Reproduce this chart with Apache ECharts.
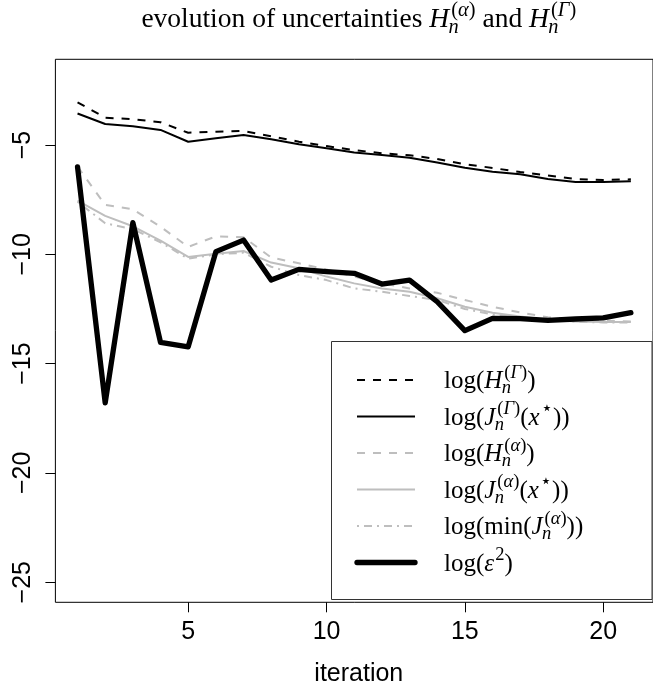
<!DOCTYPE html>
<html><head><meta charset="utf-8">
<script src="https://cdn.jsdelivr.net/npm/echarts@6/dist/echarts.min.js"></script>
<style>html,body{margin:0;padding:0;background:#fff}#c{width:653px;height:690px}</style>
</head><body><div id="c"></div>
<script>
// ---- data ----
const iterations = [1,2,3,4,5,6,7,8,9,10,11,12,13,14,15,16,17,18,19,20,21];
const logH_Gamma = [-3.05,-3.75,-3.82,-3.96,-4.44,-4.39,-4.36,-4.60,-4.85,-5.05,-5.23,-5.38,-5.47,-5.64,-5.88,-6.05,-6.24,-6.39,-6.56,-6.60,-6.57];
const logJ_Gamma = [-3.56,-4.04,-4.14,-4.31,-4.85,-4.69,-4.54,-4.74,-4.97,-5.15,-5.34,-5.46,-5.58,-5.80,-6.04,-6.22,-6.34,-6.56,-6.69,-6.69,-6.66];
const logH_alpha = [-5.99,-7.74,-7.94,-8.74,-9.66,-9.18,-9.22,-10.15,-10.41,-10.70,-11.02,-11.33,-11.56,-11.76,-12.09,-12.40,-12.66,-12.88,-12.97,-13.04,-13.08];
const logJ_alpha = [-7.55,-8.24,-8.72,-9.38,-10.12,-9.98,-9.85,-10.38,-10.64,-11.02,-11.33,-11.56,-11.71,-12.01,-12.40,-12.67,-12.85,-13.00,-13.08,-13.10,-13.10];
const logMinJ_alpha = [-7.60,-8.58,-8.85,-9.45,-10.20,-10.00,-9.93,-10.57,-10.95,-11.18,-11.56,-11.71,-11.91,-12.09,-12.50,-12.75,-12.90,-13.00,-13.08,-13.12,-13.12];
const logEps2 = [-6.00,-16.80,-8.55,-14.03,-14.23,-9.88,-9.35,-11.18,-10.69,-10.79,-10.87,-11.36,-11.18,-12.17,-13.49,-12.93,-12.94,-13.02,-12.96,-12.91,-12.67];
const xTicks = [5,10,15,20];
const yTicks = [-25,-20,-15,-10,-5];

// ---- math text helper ----
const MF = '"Liberation Serif", "DejaVu Serif", serif';
const SUPK = 0.74;
const mctx = document.createElement('canvas').getContext('2d');
function tw(t, size, it){ mctx.font = (it?'italic ':'normal ') + 'normal ' + size + 'px ' + MF; return mctx.measureText(t).width; }
function segs(arr, x, B, size, out){
  for (const [t,it] of arr){
    out.push({type:'text', x:x, y:B - 0.3*size, silent:true,
      style:{text:t, fontSize:size, fontFamily:MF, fontStyle: it?'italic':'normal', fill:'#000', align:'left', verticalAlign:'middle'}});
    x += tw(t,size,it);
  }
  return x;
}
function segW(arr,size){ let w=0; for(const [t,it] of arr) w+=tw(t,size,it); return w; }
function mathWidth(tokens,S){
  let w=0; const s2=SUPK*S;
  for(const tk of tokens){
    if(tk.m) w+=segW(tk.m,S);
    else if(tk.sup&&tk.sub) w+=Math.max(segW(tk.sup,s2)+0.08*S,segW(tk.sub,s2));
    else if(tk.sup) w+=segW(tk.sup,s2)+0.05*S;
  }
  return w;
}
function math(tokens, x, B, S, out){
  const s2 = SUPK*S;
  for (const tk of tokens){
    if (tk.m) x = segs(tk.m, x, B, S, out);
    else if (tk.sup && tk.sub){
      const a = segs(tk.sup, x+0.08*S, B-0.42*S, s2, out);
      const b = segs(tk.sub, x-0.02*S, B+0.2*S, s2, out);
      x = Math.max(a,b);
    } else if (tk.sup){ x = segs(tk.sup, x+0.05*S, B-0.42*S, s2, out); }
  }
  return x;
}
const supG = [['(',0],['Γ',1],[')',0]], supA = [['(',0],['α',1],[')',0]], subN = [['n',1]];
const titleTokens = [{m:[['evolution of uncertainties ',0],['H',1]]},{sup:supA,sub:subN},{m:[[' and ',0],['H',1]]},{sup:supG,sub:subN}];
const legendTokens = [
  [{m:[['log(',0],['H',1]]},{sup:supG,sub:subN},{m:[[')',0]]}],
  [{m:[['log(',0],['J',1]]},{sup:supG,sub:subN},{m:[['(',0],['x',1]]},{sup:[['⋆',0]]},{m:[['))',0]]}],
  [{m:[['log(',0],['H',1]]},{sup:supA,sub:subN},{m:[[')',0]]}],
  [{m:[['log(',0],['J',1]]},{sup:supA,sub:subN},{m:[['(',0],['x',1]]},{sup:[['⋆',0]]},{m:[['))',0]]}],
  [{m:[['log(min(',0],['J',1]]},{sup:supA,sub:subN},{m:[['))',0]]}],
  [{m:[['log(',0],['ε',1]]},{sup:[['2',0]]},{m:[[')',0]]}]
];

// ---- styles ----
const GRAY = '#BEBEBE';
const styles = [
  {color:'#000', width:2, type:[8,8]},
  {color:'#000', width:2, type:'solid'},
  {color:GRAY, width:2, type:[8,8]},
  {color:GRAY, width:2, type:'solid'},
  {color:GRAY, width:2, type:[2,5,8,5]},
  {color:'#000', width:5.3, type:'solid'}
];
const seriesData = [logH_Gamma, logJ_Gamma, logH_alpha, logJ_alpha, logMinJ_alpha, logEps2];

const chart = echarts.init(document.getElementById('c'), null, {renderer:'canvas'});
const gLeft = 55.4, gTop = 59.3, gRight = 662.2, gBottom = 602.3;

const graphics = [];
// title
const TS = 27.5;
const tW = mathWidth(titleTokens, TS);
math(titleTokens, (gLeft+gRight)/2 - tW/2, 28, TS, graphics);
// x axis name
graphics.push({type:'text', x:(gLeft+gRight)/2, y:674, silent:true,
  style:{text:'iteration', fontSize:25, fontFamily:'"Liberation Sans", Arial, sans-serif', fill:'#000', align:'center', verticalAlign:'middle'}});
// legend box
graphics.push({type:'rect', shape:{x:331.5, y:341.5, width:320.5, height:258}, silent:true, z:50,
  style:{fill:'#fff', stroke:'#333', lineWidth:1}});
const rowsY = [380, 416.5, 453, 489.5, 526, 562.5];
rowsY.forEach((y,i)=>{
  const st = styles[i];
  graphics.push({type:'line', shape:{x1:357, y1:y, x2:415, y2:y}, silent:true, z:51,
    style:{stroke:st.color, lineWidth:st.width, lineDash: Array.isArray(st.type)?st.type:null, lineCap: i===5?'round':'butt'}});
  const tmp=[];
  math(legendTokens[i], 444, y+9, 25, tmp);
  tmp.forEach(e=>{e.z=52; graphics.push(e);});
});

const option = {
  animation:false,
  backgroundColor:'#fff',
  grid:{left:gLeft, top:gTop, right:653-gRight, bottom:690-gBottom, show:true, borderColor:'#000', borderWidth:1, backgroundColor:'transparent', containLabel:false},
  xAxis:{type:'value', min:0.2, max:21.8, splitLine:{show:false}, axisLine:{show:false},
    axisTick:{show:true, inside:false, length:10, customValues:xTicks, lineStyle:{color:'#000', width:1}},
    axisLabel:{show:true, customValues:xTicks, margin:17, fontSize:25, color:'#000', fontFamily:'"Liberation Sans", Arial, sans-serif'}},
  yAxis:{type:'value', min:-25.92, max:-1.08, splitLine:{show:false}, axisLine:{show:false},
    axisTick:{show:true, inside:false, length:10, customValues:yTicks, lineStyle:{color:'#000', width:1}},
    axisLabel:{show:true, customValues:yTicks, rotate:90, margin:20, fontSize:25, color:'#000', fontFamily:'"Liberation Sans", Arial, sans-serif',
      formatter:v=>String(v).replace('-', '\u2212')}},
  series: seriesData.map((d,i)=>({type:'line', data: iterations.map((x,k)=>[x,d[k]]), symbol:'none', showSymbol:false,
    lineStyle:{color:styles[i].color, width:styles[i].width, type:styles[i].type, cap: i===5?'round':'butt', join:'round'}, z:2+i, silent:true})),
  graphic: graphics
};
chart.setOption(option);
</script></body></html>
